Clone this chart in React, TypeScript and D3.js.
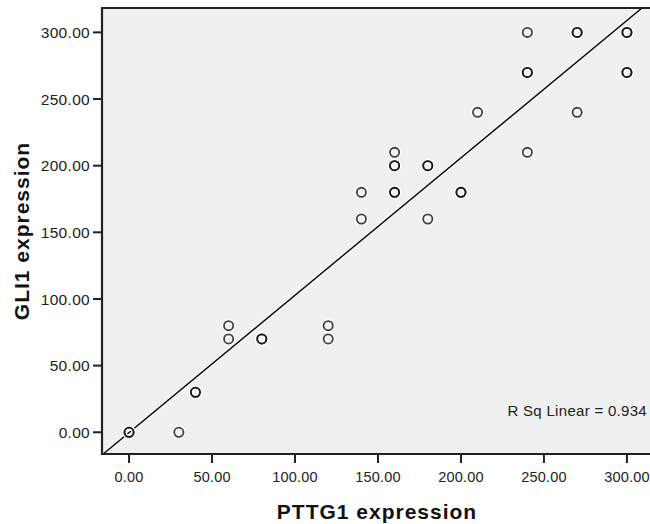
import React from 'react';
import * as d3 from 'd3';

// PTTG1 vs GLI1 expression (duplicates drawn twice -> darker rings)
const pttg1 = [0, 0, 30, 40, 40, 60, 60, 80, 80, 120, 120, 140, 140, 160, 160, 160, 160, 160, 180, 180, 180, 200, 200, 210, 240, 240, 240, 240, 270, 270, 270, 300, 300, 300, 300];
const gli1 = [0, 0, 0, 30, 30, 80, 70, 70, 70, 80, 70, 180, 160, 210, 200, 200, 180, 180, 200, 200, 160, 180, 180, 240, 300, 270, 270, 210, 300, 300, 240, 300, 300, 270, 270];
const ticks = [0, 50, 100, 150, 200, 250, 300];
const rSqLabel = 'R Sq Linear = 0.934';

const W = 650;
const H = 524;
const m = { left: 102, top: 8, right: 651, bottom: 454 };

export default function App() {
  const x = d3.scaleLinear().domain([-16.3, 314.5]).range([m.left, m.right]);
  const y = d3.scaleLinear().domain([-16.3, 318.3]).range([m.bottom, m.top]);

  const pts = pttg1.map((v, i) => ({ x: v, y: gli1[i] }));
  const mx = d3.mean(pts, d => d.x) as number;
  const my = d3.mean(pts, d => d.y) as number;
  const sxy = d3.sum(pts, d => (d.x - mx) * (d.y - my));
  const sxx = d3.sum(pts, d => (d.x - mx) ** 2);
  const slope = sxy / sxx;
  const icpt = my - slope * mx;
  const [x0, x1] = x.domain();
  const fit = d3.line<number>().x(d => x(d)).y(d => y(icpt + slope * d))([x0, x1]);

  const font = '"Liberation Sans", Arial, sans-serif';

  return (
    <svg width={W} height={H} style={{ position: 'absolute', left: 0, top: 0, background: '#fff' }} fontFamily={font}>
      <defs>
        <clipPath id="plot">
          <rect x={m.left} y={m.top} width={m.right - m.left} height={m.bottom - m.top} />
        </clipPath>
      </defs>
      <rect x={m.left} y={m.top} width={m.right - m.left} height={m.bottom - m.top} fill="#f0f0f0" />

      <g clipPath="url(#plot)">
        <path d={fit || ''} stroke="#fff" strokeWidth={3.5} strokeOpacity={0.8} fill="none" />
        <path d={fit || ''} stroke="#111" strokeWidth={1.5} fill="none" />
        {pts.map((p, i) => (
          <circle key={'h' + i} cx={x(p.x)} cy={y(p.y)} r={4.6} fill="none" stroke="#fff" strokeWidth={4.5} strokeOpacity={0.7} />
        ))}
        {pts.map((p, i) => (
          <circle key={i} cx={x(p.x)} cy={y(p.y)} r={4.6} fill="none" stroke="#111" strokeWidth={1.8} strokeOpacity={0.8} />
        ))}
      </g>

      {/* frame */}
      <path d={`M${m.right},${m.top}H${m.left}V${m.bottom}H${m.right}`} fill="none" stroke="#222" strokeWidth={2.2} />

      {/* y axis */}
      {ticks.map(t => (
        <g key={'y' + t} transform={`translate(${m.left},${y(t)})`}>
          <line x1={-9} x2={0} stroke="#222" strokeWidth={2} />
          <text x={-12} dy="0.36em" textAnchor="end" fontSize={15.5} letterSpacing={0.3} fill="#222">
            {d3.format('.2f')(t)}
          </text>
        </g>
      ))}

      {/* x axis */}
      {ticks.map(t => (
        <g key={'x' + t} transform={`translate(${x(t)},${m.bottom})`}>
          <line y1={0} y2={9} stroke="#222" strokeWidth={2} />
          <text y={28} textAnchor="middle" fontSize={14.5} letterSpacing={0.2} fill="#222">
            {d3.format('.2f')(t)}
          </text>
        </g>
      ))}

      <text x={647} y={416} textAnchor="end" fontSize={15} letterSpacing={0.3} fill="#222">{rSqLabel}</text>

      <text x={377} y={519} textAnchor="middle" fontSize={21} fontWeight="bold" letterSpacing={1} fill="#111">
        PTTG1 expression
      </text>
      <text transform={`translate(29,${(m.top + m.bottom) / 2}) rotate(-90)`} textAnchor="middle" fontSize={21} fontWeight="bold" letterSpacing={1} fill="#111">
        GLI1 expression
      </text>
    </svg>
  );
}
